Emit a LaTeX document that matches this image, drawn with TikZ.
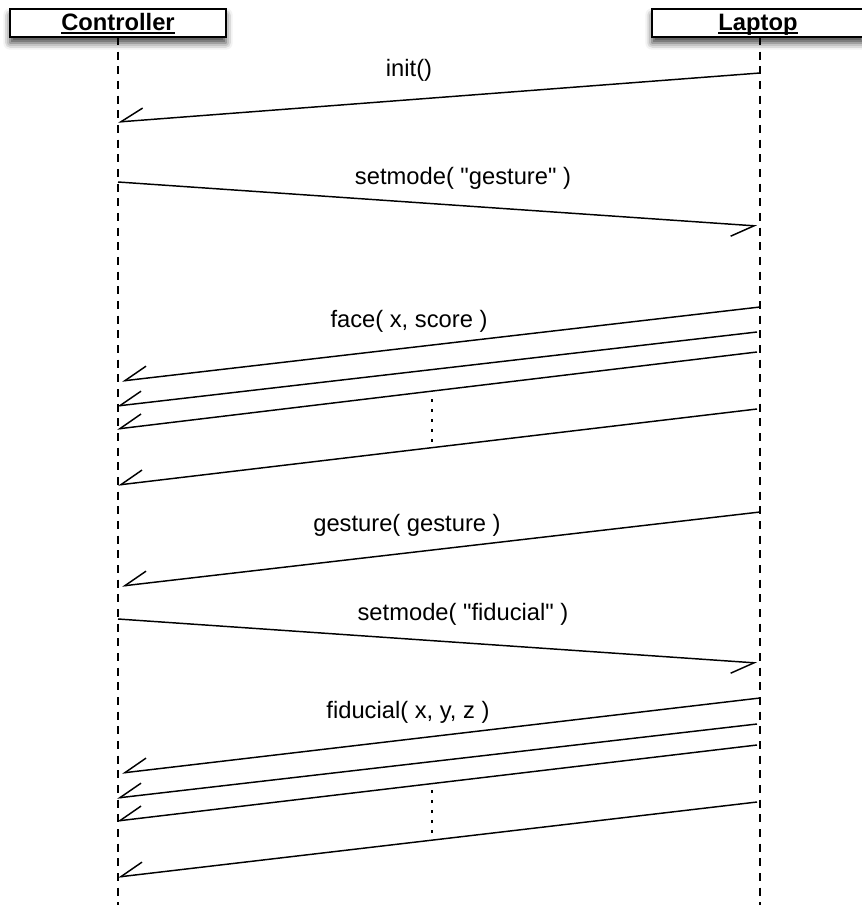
\documentclass[tikz,border=0pt]{standalone}
\usepackage{fontspec}
\setmainfont{Liberation Sans}[Ligatures=TeXOff]
\usetikzlibrary{arrows.meta,shadows.blur}
\newcommand\myul[1]{\setbox0\hbox{#1}\rlap{\rule[-2.4pt]{\wd0}{1.3pt}}\box0}
\begin{document}
\begin{tikzpicture}[x=0.75pt,y=-0.75pt,
  headbox/.style={draw=black,line width=1.1pt,fill=white,minimum width=162pt,minimum height=21pt,inner sep=0pt,
    text height=14pt,text depth=2pt,
    font=\fontsize{17.8}{20}\selectfont\bfseries,
    blur shadow={shadow xshift=0pt,shadow yshift=-4.5pt,shadow blur radius=5pt,shadow opacity=75}},
  lifeline/.style={line width=1.1pt,dash pattern=on 6pt off 5pt},
  msg/.style={line width=1.1pt,-{Straight Barb[harpoon,swap,length=17pt,width=18pt,line width=1.1pt]}},
  lbl/.style={font=\fontsize{17.8}{20}\selectfont,inner sep=0pt},
  dots/.style={line width=1.1pt,dash pattern=on 2.2pt off 5.3pt}]
\useasboundingbox (0,0) rectangle (862,905);
% lifelines
\coordinate (cTop) at (118,37);
\coordinate (cBot) at (118,905);
\coordinate (lTop) at (760,37);
\coordinate (lBot) at (760,905);
\draw[lifeline] (cTop) -- (cBot);
\draw[lifeline] (lTop) -- (lBot);
% header boxes
\node[headbox] (ctrl) at (118,23) {\myul{Controller}};
\node[headbox,minimum width=159pt] (lap) at (758,23) {\myul{Laptop}};
% message end points
\coordinate (a1s) at (760,73);  \coordinate (a1e) at (118,122);
\coordinate (a2s) at (118,182); \coordinate (a2e) at (757,226);
\coordinate (a3s) at (760,307); \coordinate (a3e) at (122,381);
\coordinate (a4s) at (757,332); \coordinate (a4e) at (117,406);
\coordinate (a5s) at (757,352); \coordinate (a5e) at (117,429);
\coordinate (a6s) at (757,409); \coordinate (a6e) at (118,485);
\coordinate (a7s) at (760,512); \coordinate (a7e) at (122,586);
\coordinate (a8s) at (118,619); \coordinate (a8e) at (757,663);
\coordinate (a9s) at (760,698); \coordinate (a9e) at (122,773);
\coordinate (a10s) at (757,724); \coordinate (a10e) at (117,798);
\coordinate (a11s) at (757,745); \coordinate (a11e) at (117,821);
\coordinate (a12s) at (757,802); \coordinate (a12e) at (118,877);
\foreach \i in {1,...,12} {\draw[msg] (a\i s) -- (a\i e);}
% dotted continuation marks
\coordinate (d1s) at (432,399); \coordinate (d1e) at (432,446);
\coordinate (d2s) at (432,790); \coordinate (d2e) at (432,837);
\draw[dots] (d1s) -- (d1e);
\draw[dots] (d2s) -- (d2e);
% labels
\node[lbl] (l1) at (409,70) {init()};
\node[lbl] (l2) at (463,178) {setmode( "gesture" )};
\node[lbl] (l3) at (409,321) {face( x, score )};
\node[lbl] (l4) at (407,525) {gesture( gesture )};
\node[lbl] (l5) at (463,614) {setmode( "fiducial" )};
\node[lbl] (l6) at (408,712) {fiducial( x, y, z )};
\end{tikzpicture}
\end{document}
